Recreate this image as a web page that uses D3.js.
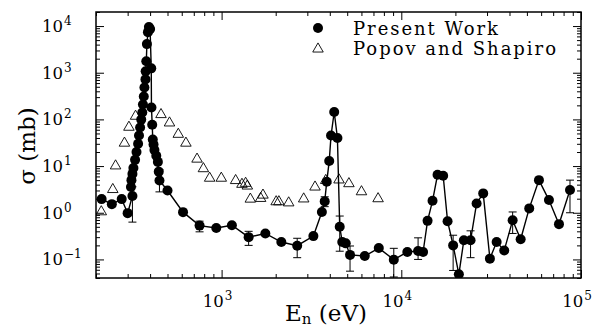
<!DOCTYPE html>
<html>
<head>
<meta charset="utf-8">
<script src="https://cdn.jsdelivr.net/npm/d3@7"></script>
<style>
  body { margin: 0; background: #fff; }
  text { font-family: "DejaVu Serif", "Liberation Serif", serif; fill: #000; }
</style>
</head>
<body>
<svg id="chart" width="595" height="328"></svg>
<script>
// Present Work (filled circles, joined by a line)
const presentE = [215, 245, 278, 300, 319, 313, 315, 319, 323, 330, 336, 343, 347, 352, 357, 362,
  365, 369, 372, 377, 378, 381, 384, 389, 394, 400, 406, 407, 411, 414, 418, 423, 433, 442, 447,
  451, 500, 610, 754, 934, 1141, 1414, 1752, 2150, 2634, 3242, 3615, 3748, 3846, 3971, 4064, 4233,
  4411, 4543, 4692, 4907, 5185, 6262, 7494, 9083, 10800, 12400, 13220, 14000, 14920, 15910, 17100,
  18090, 19430, 20910, 22290, 24290, 26240, 28560, 31120, 33920, 37390, 41650, 46150, 51520, 58340,
  66330, 75410, 86840];
const presentS = [1.96, 1.53, 1.96, 0.98, 2.28, 3.56, 5.0, 6.8, 9.1, 13.6, 20, 30, 45, 67, 99, 140,
  208, 310, 484, 720, 1070, 1760, 4100, 7400, 9500, 8600, 1240, 180, 77, 37, 29, 22, 16.6, 12.3, 7.6,
  4.9, 3.0, 1.03, 0.53, 0.47, 0.54, 0.30, 0.36, 0.236, 0.197, 0.316, 1.04, 1.75, 4.6, 12.8, 45, 144,
  40, 0.50, 0.236, 0.221, 0.125, 0.118, 0.175, 0.099, 0.144, 0.151, 0.144, 0.67, 1.80, 6.5, 6.2,
  0.66, 0.20, 0.048, 0.257, 0.257, 1.58, 2.6, 0.104, 0.236, 0.156, 0.69, 0.27, 1.24, 5.0, 1.87,
  0.57, 3.07];

// error bars on some Present Work points
const errE = [319, 451, 754, 1414, 2634, 3748, 4543, 5185, 9083, 12400, 19430, 24290, 41650, 86840];
const errLo = [0.63, 2.8, 0.39, 0.20, 0.109, 1.35, 0.15, 0.056, 0.042, 0.10, 0.058, 0.109, 0.36, 1.0];
const errHi = [3.6, 8.3, 0.66, 0.40, 0.284, 2.2, 0.85, 0.194, 0.173, 0.29, 0.33, 0.41, 1.04, 5.0];

// Popov and Shapiro (open triangles)
const popovE = [214, 248, 257, 288, 305, 332, 460, 513, 574, 633, 730, 792, 858, 996, 1197, 1298,
  1360, 1391, 1445, 1649, 1699, 2012, 2083, 2362, 2863, 3310, 3797, 4503, 5111, 6003, 7427];
const popovS = [1.05, 3.15, 10.1, 31, 68, 117, 127, 84, 48, 31, 14.1, 8.8, 5.5, 5.5, 4.9, 4.07,
  4.28, 3.74, 1.96, 2.03, 2.39, 1.72, 1.72, 1.63, 1.98, 3.56, 4.92, 5.05, 4.2, 2.82, 2.0];

const xTickExps = [3, 4, 5];
const yTickExps = [-1, 0, 1, 2, 3, 4];
const legendLabels = ['Present Work', 'Popov and Shapiro'];

const margin = { left: 96, right: 14, top: 12, bottom: 50 };
const width = 595;
const height = 328;

const svg = d3.select('#chart');

const x = d3.scaleLog()
    .domain([200, 1e5])
    .range([margin.left, width - margin.right]);

const y = d3.scaleLog()
    .domain([0.04, 2e4])
    .range([height - margin.bottom, margin.top]);

const x0 = margin.left, x1 = width - margin.right;
const y0 = height - margin.bottom, y1 = margin.top;

// minor + major tick values
const xMinor = [], yMinor = [];
for (let e = 2; e <= 4; e++) {
  for (let m = 2; m <= 9; m++) xMinor.push(m * Math.pow(10, e));
}
for (let e = -2; e <= 4; e++) {
  for (let m = 2; m <= 9; m++) {
    const v = m * Math.pow(10, e);
    if (v >= 0.04 && v <= 2e4) yMinor.push(v);
  }
}
const xMajor = xTickExps.map(e => Math.pow(10, e));
const yMajor = yTickExps.map(e => Math.pow(10, e));

function addAxis(axis, tf, vals, size) {
  const g = svg.append('g')
      .attr('transform', tf)
      .call(axis.tickValues(vals).tickSize(size).tickFormat(''));
  g.select('.domain').remove();
  g.selectAll('line').attr('stroke', '#000').attr('stroke-width', 1);
}

// ticks pointing inward on all four sides
addAxis(d3.axisBottom(x), `translate(0,${y0})`, xMinor, -4);
addAxis(d3.axisBottom(x), `translate(0,${y0})`, xMajor, -8);
addAxis(d3.axisTop(x), `translate(0,${y1})`, xMinor, -4);
addAxis(d3.axisTop(x), `translate(0,${y1})`, xMajor, -8);
addAxis(d3.axisLeft(y), `translate(${x0},0)`, yMinor, -4);
addAxis(d3.axisLeft(y), `translate(${x0},0)`, yMajor, -8);
addAxis(d3.axisRight(y), `translate(${x1},0)`, yMinor, -4);
addAxis(d3.axisRight(y), `translate(${x1},0)`, yMajor, -8);

// frame
svg.append('rect')
    .attr('x', x0).attr('y', y1)
    .attr('width', x1 - x0).attr('height', y0 - y1)
    .attr('fill', 'none')
    .attr('stroke', '#000')
    .attr('stroke-width', 1.5);

// tick labels with superscripts
function powLabel(sel, e) {
  sel.append('tspan').text('10');
  sel.append('tspan')
      .attr('font-size', 12)
      .attr('dy', -7)
      .attr('dx', 1)
      .text(e < 0 ? '\u2212' + (-e) : String(e));
}

xTickExps.forEach(e => {
  const t = svg.append('text')
      .attr('x', x(Math.pow(10, e)) - 4)
      .attr('y', 306.5)
      .attr('text-anchor', 'middle')
      .attr('font-size', 16.5);
  powLabel(t, e);
});

yTickExps.forEach(e => {
  const t = svg.append('text')
      .attr('x', 42)
      .attr('y', y(Math.pow(10, e)) + 5.8)
      .attr('font-size', 16.5);
  powLabel(t, e);
});

// axis titles
const xt = svg.append('text')
    .attr('x', 326)
    .attr('y', 321)
    .attr('text-anchor', 'middle')
    .attr('font-size', 23);
xt.append('tspan').text('E');
xt.append('tspan').attr('font-size', 15).attr('dy', 3).text('n');
xt.append('tspan').attr('dy', -3).text(' (eV)');

svg.append('text')
    .attr('transform', 'translate(35,146) rotate(-90)')
    .attr('text-anchor', 'middle')
    .attr('font-size', 23)
    .text('\u03C3 (mb)');

// data group clipped to the frame
svg.append('clipPath').attr('id', 'clip')
  .append('rect')
    .attr('x', x0).attr('y', y1)
    .attr('width', x1 - x0).attr('height', y0 - y1);

const plot = svg.append('g').attr('clip-path', 'url(#clip)');

const tri = d3.symbol().type(d3.symbolTriangle).size(48);

plot.selectAll('path.popov')
    .data(popovE.map((e, i) => [e, popovS[i]]))
    .enter()
    .append('path').attr('class', 'popov')
    .attr('transform', d => `translate(${x(d[0])},${y(d[1])})`)
    .attr('d', tri)
    .attr('fill', 'none')
    .attr('stroke', '#000')
    .attr('stroke-width', 0.9);

const present = presentE.map((e, i) => [e, presentS[i]]);

plot.append('path')
    .datum(present)
    .attr('d', d3.line().x(d => x(d[0])).y(d => y(d[1])))
    .attr('fill', 'none')
    .attr('stroke', '#000')
    .attr('stroke-width', 1.4);

const errs = plot.selectAll('g.err')
    .data(errE.map((e, i) => ({ e: e, lo: errLo[i], hi: errHi[i] })))
    .enter()
    .append('g').attr('class', 'err')
    .attr('stroke', '#000')
    .attr('stroke-width', 1);
errs.append('line')
    .attr('x1', d => x(d.e)).attr('x2', d => x(d.e))
    .attr('y1', d => y(d.lo)).attr('y2', d => y(d.hi));
errs.append('line')
    .attr('x1', d => x(d.e) - 4).attr('x2', d => x(d.e) + 4)
    .attr('y1', d => y(d.lo)).attr('y2', d => y(d.lo));
errs.append('line')
    .attr('x1', d => x(d.e) - 4).attr('x2', d => x(d.e) + 4)
    .attr('y1', d => y(d.hi)).attr('y2', d => y(d.hi));

plot.selectAll('circle.present')
    .data(present)
    .enter()
    .append('circle').attr('class', 'present')
    .attr('cx', d => x(d[0]))
    .attr('cy', d => y(d[1]))
    .attr('r', 5)
    .attr('fill', '#000');

// legend
const legend = svg.append('g');
legend.append('circle')
    .attr('cx', 318).attr('cy', 28).attr('r', 5).attr('fill', '#000');
legend.append('path')
    .attr('transform', 'translate(318,49)')
    .attr('d', tri)
    .attr('fill', 'none')
    .attr('stroke', '#000')
    .attr('stroke-width', 0.9);
legend.selectAll('text')
    .data(legendLabels)
    .enter()
    .append('text')
    .attr('x', 353)
    .attr('y', (d, i) => 35 + i * 20)
    .attr('font-size', 18)
    .attr('textLength', (d, i) => i === 0 ? 145 : 203)
    .attr('lengthAdjust', 'spacing')
    .text(d => d);
</script>
</body>
</html>
